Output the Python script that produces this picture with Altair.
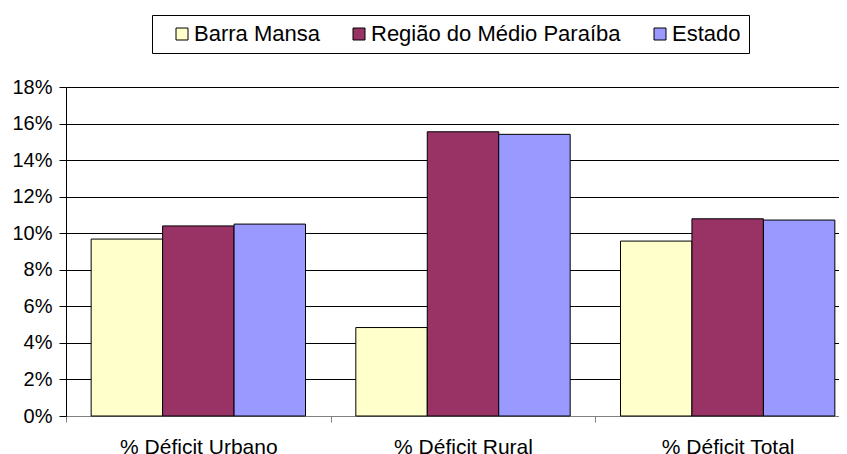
import altair as alt
import pandas as pd

categories = ["% Déficit Urbano", "% Déficit Rural", "% Déficit Total"]
series = ["Barra Mansa", "Região do Médio Paraíba", "Estado"]
barra_mansa = [0.0968, 0.0484, 0.0957]
regiao = [0.1040, 0.1555, 0.1079]
estado = [0.1050, 0.1541, 0.1072]
colors = ["#FFFFCC", "#993366", "#9999FF"]
y_ticks = [0.0, 0.02, 0.04, 0.06, 0.08, 0.10, 0.12, 0.14, 0.16, 0.18]

rows = []
for s, vals in zip(series, [barra_mansa, regiao, estado]):
    for c, v in zip(categories, vals):
        rows.append({"categoria": c, "serie": s, "valor": v})
df = pd.DataFrame(rows)

FONT = "Liberation Sans"

chart = alt.Chart(df).mark_bar(stroke="#000000", strokeWidth=1, opacity=1).encode(
    x=alt.X(
        "categoria:N", sort=categories, title=None,
        scale=alt.Scale(paddingInner=0, paddingOuter=0),
        axis=alt.Axis(labelAngle=0, tickBand="extent", domainColor="#808080",
                      tickColor="#808080", tickSize=6, labelFontSize=21,
                      labelPadding=14, grid=False, labelFont=FONT,
                      labelColor="#000000"),
    ),
    xOffset=alt.XOffset("serie:N", sort=series,
                        scale=alt.Scale(paddingInner=0, paddingOuter=0.352)),
    y=alt.Y(
        "valor:Q", title=None,
        scale=alt.Scale(domain=[0, 0.18], nice=False),
        axis=alt.Axis(values=y_ticks, format=".0%", grid=True, gridColor="#000000",
                      gridWidth=1, gridOpacity=1, domainColor="#000000",
                      tickColor="#000000", tickSize=7, labelPadding=7,
                      labelFontSize=20, labelFont=FONT, labelColor="#000000"),
    ),
    color=alt.Color(
        "serie:N", sort=series,
        scale=alt.Scale(domain=series, range=colors),
        legend=alt.Legend(title=" ", titleOrient="left", titleFontSize=1,
                          titlePadding=11,
                          orient="none", direction="horizontal",
                          legendX=86, legendY=-72, symbolType="square",
                          symbolSize=144, symbolStrokeColor="#000000",
                          symbolStrokeWidth=1, symbolOpacity=1,
                          labelFontSize=22, labelFont=FONT, labelColor="#000000",
                          labelLimit=400, columnPadding=28, labelOffset=1,
                          padding=8, strokeColor="#000000", fillColor="#FFFFFF"),
    ),
).properties(
    width=794, height=329,
    autosize=alt.AutoSizeParams(type="none"),
    padding={"left": 58, "top": 79, "right": -21, "bottom": 38},
).configure_view(stroke=None)

chart.save("out.html", embed_options={"renderer": "svg", "actions": False})
